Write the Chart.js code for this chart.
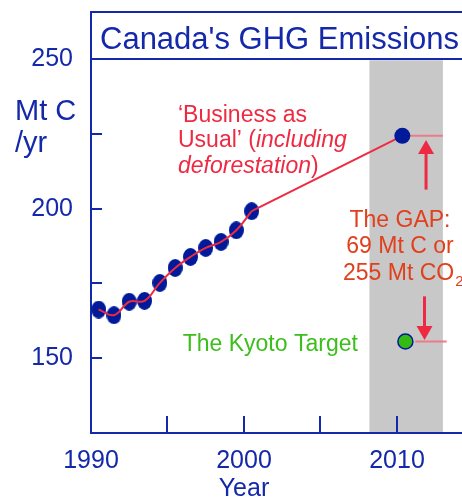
<!DOCTYPE html>
<html><head><meta charset="utf-8">
<script src="https://cdn.jsdelivr.net/npm/chart.js@4/dist/chart.umd.min.js"></script>
<style>html,body{margin:0;padding:0;background:#fff;overflow:hidden}</style>
</head><body>
<canvas id="c" width="462" height="498"></canvas>
<script>
// ---- data ----
const years = [1990.5,1991.5,1992.5,1993.5,1994.5,1995.5,1996.5,1997.5,1998.5,1999.5,2000.5];
const emissions = [166.3,164.4,168.9,169.2,175.2,180.2,183.9,186.9,188.9,192.8,199.2];
const bauYears = [2000.5, 2010.35];
const bauValues = [199.2, 224.4];
const projYear = [2010.35];
const projValue = [224.4];
const kyotoYear = [2010.55];
const kyotoValue = [155.6];
const gapTopYears = [2010.85, 2013.0];
const gapTopValues = [224.4, 224.4];
const gapBottomYears = [2011.2, 2013.25];
const gapBottomValues = [155.6, 155.6];
const arrowYears = [2011.9, 2011.8];
const arrowFrom = [206.4, 170.7];
const arrowTo = [223.0, 156.1];
const commitmentPeriod = [2008.2, 2013.0];
const titleBoxValue = 250;
const xTicks = [1990, 1995, 2000, 2005, 2010];
const xLabels = [1990, 2000, 2010];
const yTicks = [150, 175, 200, 225, 250];
const yLabels = [150, 200, 250];

const NAVY = '#1428aa', DOT = '#001a99', RED = '#ee2a42', PINK = '#ec7a88';
const GAPC = '#e0401c', GREEN = '#3cbf1a', GREY = '#c8c8c8';
const FF = '"Liberation Sans", Arial, Helvetica, sans-serif';

function ellipseImg(w, h, color) {
  const c = document.createElement('canvas'); c.width = w; c.height = h;
  const g = c.getContext('2d'); g.fillStyle = color;
  g.beginPath(); g.ellipse(w/2, h/2, w/2, h/2, 0, 0, Math.PI*2); g.fill();
  return c;
}
const dotImg = ellipseImg(15, 18, DOT);
const pts = (xs, ys) => xs.map((x, i) => ({x, y: ys[i]}));

const decor = {
  id: 'decor',
  beforeDatasetsDraw(chart) {
    const {ctx, chartArea: a, scales: {x, y}} = chart;
    ctx.save();
    const x0 = x.getPixelForValue(commitmentPeriod[0]), x1 = x.getPixelForValue(commitmentPeriod[1]);
    const yb = y.getPixelForValue(titleBoxValue);
    ctx.fillStyle = GREY;
    ctx.fillRect(x0, yb + 1, x1 - x0, a.bottom - 1 - (yb + 1));
    ctx.strokeStyle = NAVY; ctx.lineWidth = 2;
    ctx.beginPath();
    xTicks.forEach(v => { if (v === x.min) return; const px = Math.round(x.getPixelForValue(v)); ctx.moveTo(px, a.bottom); ctx.lineTo(px, a.bottom - 17); });
    yTicks.forEach(v => { if (v === titleBoxValue) return; const py = Math.round(y.getPixelForValue(v)); ctx.moveTo(a.left, py); ctx.lineTo(a.left + 11, py); });
    ctx.stroke();
    ctx.beginPath();
    ctx.moveTo(a.left - 1, a.top); ctx.lineTo(a.right, a.top);
    ctx.moveTo(a.left, Math.round(yb)); ctx.lineTo(a.right, Math.round(yb));
    ctx.stroke();
    ctx.fillStyle = NAVY; ctx.font = '31px ' + FF; ctx.textBaseline = 'alphabetic'; ctx.textAlign = 'left';
    ctx.fillText("Canada's GHG Emissions", a.left + 9, 48.5);
    ctx.restore();
  },
  afterDatasetsDraw(chart) {
    const {ctx, scales: {x, y}} = chart;
    ctx.save();
    ctx.strokeStyle = RED; ctx.fillStyle = RED; ctx.lineWidth = 3;
    arrowYears.forEach((yr, i) => {
      const px = x.getPixelForValue(yr), pf = y.getPixelForValue(arrowFrom[i]), pt = y.getPixelForValue(arrowTo[i]);
      const dir = pt < pf ? 1 : -1, head = 14, hw = 8;
      ctx.beginPath(); ctx.moveTo(px, pf); ctx.lineTo(px, pt + dir * head); ctx.stroke();
      ctx.beginPath(); ctx.moveTo(px, pt); ctx.lineTo(px - hw, pt + dir * head); ctx.lineTo(px + hw, pt + dir * head); ctx.closePath(); ctx.fill();
    });
    ctx.restore();
  },
  afterDraw(chart) {
    const {ctx, scales: {x}} = chart;
    ctx.save();
    ctx.textBaseline = 'alphabetic'; ctx.textAlign = 'left';
    ctx.fillStyle = NAVY; ctx.font = '29px ' + FF;
    ctx.fillText('Mt C', 15, 119.5);
    ctx.fillText('/yr', 15, 151.5);
    ctx.font = '25px ' + FF; ctx.textAlign = 'center';
    ctx.fillText('Year', x.getPixelForValue(2000), 496);
    ctx.textAlign = 'left';
    const nf = '23px ' + FF, itf = 'italic 23px ' + FF;
    ctx.fillStyle = RED; ctx.font = nf;
    ctx.fillText('\u2018Business as', 178, 121.7);
    let cx = 178;
    ctx.fillText('Usual\u2019 (', cx, 147.3); cx += ctx.measureText('Usual\u2019 (').width;
    ctx.font = itf; ctx.fillText('including', cx, 147.3);
    ctx.fillText('deforestation', 178, 172.7); cx = 178 + ctx.measureText('deforestation').width;
    ctx.font = nf; ctx.fillText(')', cx, 172.7);
    ctx.fillStyle = GAPC; ctx.textAlign = 'center';
    ctx.fillText('The GAP:', 400, 226.7);
    ctx.fillText('69 Mt C or', 400, 253.3);
    ctx.textAlign = 'left';
    ctx.fillText('255 Mt CO', 343, 280);
    const w = ctx.measureText('255 Mt CO').width;
    ctx.font = '15px ' + FF; ctx.fillText('2', 343 + w + 1, 286);
    ctx.fillStyle = GREEN; ctx.font = nf;
    ctx.fillText('The Kyoto Target', 182.7, 351);
    ctx.restore();
  }
};

new Chart(document.getElementById('c'), {
  type: 'line',
  data: {
    datasets: [
      { data: pts(years, emissions), borderColor: RED, borderWidth: 2, tension: 0.4, pointRadius: 0, order: 0 },
      { data: pts(bauYears, bauValues), borderColor: RED, borderWidth: 2, tension: 0, pointRadius: 0, order: 0 },
      { data: pts(gapTopYears, gapTopValues), borderColor: PINK, borderWidth: 2, pointRadius: 0, order: 0 },
      { data: pts(gapBottomYears, gapBottomValues), borderColor: PINK, borderWidth: 2, pointRadius: 0, order: 0 },
      { data: pts(years, emissions), showLine: false, pointStyle: dotImg, pointRadius: 9, order: 1 },
      { data: pts(projYear, projValue), showLine: false, pointStyle: 'circle', pointRadius: 8, pointBackgroundColor: DOT, pointBorderColor: DOT, pointBorderWidth: 0, order: -1 },
      { data: pts(kyotoYear, kyotoValue), showLine: false, pointStyle: 'circle', pointRadius: 7.5, pointBackgroundColor: '#33bb11', pointBorderColor: DOT, pointBorderWidth: 1.5, order: -1 }
    ]
  },
  options: {
    responsive: false, animation: false, devicePixelRatio: 1,
    layout: { autoPadding: false, padding: { top: 12, left: 0, right: 0, bottom: 0 } },
    plugins: { legend: { display: false }, tooltip: { enabled: false }, title: { display: false } },
    scales: {
      x: {
        type: 'linear', min: 1990, max: 2014.25,
        afterBuildTicks: s => { s.ticks = xTicks.map(v => ({value: v})); },
        afterFit: s => { s.height = 65; s.paddingLeft = 0; s.paddingRight = 0; s.paddingTop = 0; s.paddingBottom = 0; },
        grid: { display: false, drawTicks: false },
        border: { display: true, color: NAVY, width: 2 },
        ticks: { padding: 13, color: NAVY, font: { family: FF, size: 25 }, maxRotation: 0, autoSkip: false,
          callback: v => xLabels.includes(v) ? String(v) : '' }
      },
      y: {
        type: 'linear', min: 125, max: 265.8,
        afterBuildTicks: s => { s.ticks = yTicks.map(v => ({value: v})); },
        afterFit: s => { s.width = 91; s.paddingLeft = 0; s.paddingRight = 0; s.paddingTop = 0; s.paddingBottom = 0; },
        grid: { display: false, drawTicks: false },
        border: { display: true, color: NAVY, width: 2 },
        ticks: { padding: 18, color: NAVY, font: { family: FF, size: 25 }, autoSkip: false,
          callback: v => yLabels.includes(v) ? String(v) : '' }
      }
    }
  },
  plugins: [decor]
});
</script>
</body></html>
